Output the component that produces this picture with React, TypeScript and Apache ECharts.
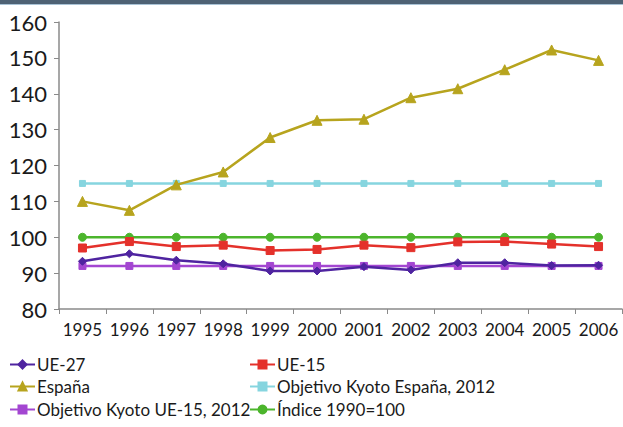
import React, { useEffect, useRef } from "react";
import * as echarts from "echarts";

const years = ["1995","1996","1997","1998","1999","2000","2001","2002","2003","2004","2005","2006"];
const ue27 = [93.3, 95.4, 93.6, 92.6, 90.6, 90.6, 91.8, 90.9, 92.9, 92.9, 92.1, 92.2];
const ue15 = [97.0, 98.8, 97.4, 97.8, 96.3, 96.6, 97.8, 97.1, 98.7, 98.8, 98.1, 97.4];
const espana = [110.0, 107.5, 114.6, 118.2, 127.8, 132.6, 132.9, 138.9, 141.4, 146.7, 152.2, 149.3];
const kyotoEspana = [115, 115, 115, 115, 115, 115, 115, 115, 115, 115, 115, 115];
const kyotoUE15 = [92, 92, 92, 92, 92, 92, 92, 92, 92, 92, 92, 92];
const indice = [100, 100, 100, 100, 100, 100, 100, 100, 100, 100, 100, 100];

const legendLeft = ["UE-27", "España", "Objetivo Kyoto UE-15, 2012"];
const legendRight = ["UE-15", "Objetivo Kyoto España, 2012", "Índice 1990=100"];

const FONT = "Lato";

export default function App() {
  const ref = useRef<HTMLDivElement>(null);
  useEffect(() => {
    const chart = echarts.init(ref.current!, null, { renderer: "svg" });
    const mk = (name: string, data: number[], color: string, symbol: string, size: number, z = 2) => ({
      name,
      type: "line",
      data,
      symbol,
      symbolSize: size,
      z,
      lineStyle: { color, width: 2.5 },
      itemStyle: { color, borderColor: color, borderWidth: 1 },
    });
    const rowTops = [356, 378, 401];
    const legendItem = (name: string, left: number, top: number) => ({
      left,
      top,
      itemWidth: 25,
      itemHeight: 10,
      padding: 0,
      data: [name],
      textStyle: { color: "#1a1a1a", fontSize: 17, fontFamily: FONT, padding: [0, 0, 0, -3] },
    });
    const legends = [
      ...legendLeft.map((n, i) => legendItem(n, 9, rowTops[i])),
      ...legendRight.map((n, i) => legendItem(n, 249, rowTops[i])),
    ];
    chart.setOption({
      animation: false,
      backgroundColor: "#ffffff",
      graphic: [
        { type: "rect", shape: { x: 0, y: 0, width: 623, height: 4 }, style: { fill: "#4e6274" } },
        { type: "rect", shape: { x: 0, y: 4, width: 623, height: 1 }, style: { fill: "#a9c3d6" } },
      ],
      grid: { left: 59, right: 1, top: 22, bottom: 118, containLabel: false },
      xAxis: {
        type: "category",
        data: years,
        boundaryGap: true,
        axisLine: { lineStyle: { color: "#8a8a8a", width: 1.5 } },
        axisTick: { show: true, length: 5, lineStyle: { color: "#8a8a8a" } },
        axisLabel: { color: "#1a1a1a", fontSize: 17, fontFamily: FONT, margin: 12, interval: 0 },
      },
      yAxis: {
        type: "value",
        min: 80,
        max: 160,
        interval: 10,
        splitLine: { show: false },
        axisLine: { show: true, lineStyle: { color: "#8a8a8a", width: 1.5 } },
        axisTick: { show: true, length: 5, lineStyle: { color: "#8a8a8a" } },
        axisLabel: { color: "#1a1a1a", fontSize: 22, fontFamily: FONT, margin: 12 },
      },
      legend: legends,
      series: [
        mk("Objetivo Kyoto España, 2012", kyotoEspana, "#86d5df", "rect", 6, 1),
        mk("Índice 1990=100", indice, "#4cb52c", "circle", 8, 1),
        mk("Objetivo Kyoto UE-15, 2012", kyotoUE15, "#a346d1", "rect", 7, 2),
        mk("UE-15", ue15, "#e4312b", "rect", 8, 3),
        mk("UE-27", ue27, "#4f24a0", "diamond", 8, 4),
        mk("España", espana, "#b7a41e", "triangle", 10, 5),
      ],
    });
    return () => chart.dispose();
  }, []);
  return (
    <div
      ref={ref}
      style={{ position: "fixed", left: 0, top: 0, width: 623, height: 427, background: "#fff" }}
    />
  );
}
